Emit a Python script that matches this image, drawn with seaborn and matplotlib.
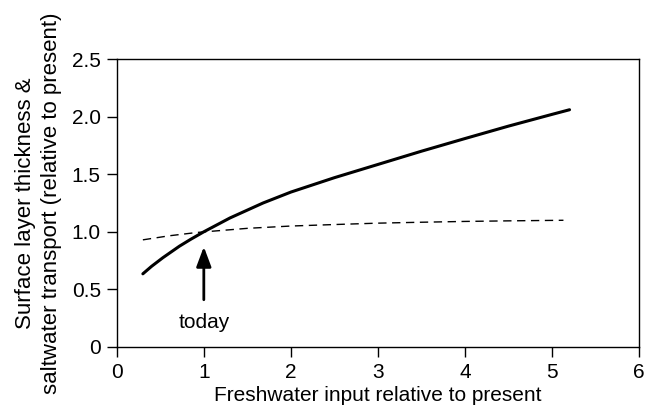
import numpy as np
import pandas as pd
import seaborn as sns
import matplotlib.pyplot as plt

# values
thickness_x = [0.3, 0.4, 0.53, 0.72, 0.85, 1.0, 1.3, 1.68, 2.0, 2.22, 2.5, 3.0, 3.5, 4.0, 4.5, 5.0, 5.2]
thickness_y = [0.635, 0.70, 0.775, 0.875, 0.935, 1.0, 1.12, 1.25, 1.345, 1.40, 1.47, 1.585, 1.70, 1.81, 1.918, 2.02, 2.06]

transport_x = [0.3, 0.6, 0.92, 1.5, 2.0, 2.5, 3.0, 3.5, 4.0, 4.5, 5.13]
transport_y = [0.93, 0.965, 0.994, 1.03, 1.05, 1.063, 1.075, 1.083, 1.09, 1.095, 1.10]

x_ticks = [0, 1, 2, 3, 4, 5, 6]
y_ticks = [0, 0.5, 1.0, 1.5, 2.0, 2.5]
y_tick_labels = ["0", "0.5", "1.0", "1.5", "2.0", "2.5"]

today_x = 1.0
arrow_from = 0.41
arrow_to = 0.87
today_label_y = 0.21

sns.set_theme(style="ticks")
plt.rcParams['font.family'] = ['Liberation Sans', 'DejaVu Sans']
plt.rcParams['axes.linewidth'] = 1.0
plt.rcParams['text.color'] = 'black'
plt.rcParams['axes.labelcolor'] = 'black'
plt.rcParams['xtick.color'] = 'black'
plt.rcParams['ytick.color'] = 'black'
plt.rcParams['axes.edgecolor'] = 'black'

fig, ax = plt.subplots(figsize=(6.45, 4.19), dpi=100)
fig.subplots_adjust(left=0.181, right=0.991, bottom=0.172, top=0.859)

df_thick = pd.DataFrame({"x": thickness_x, "y": thickness_y})
df_trans = pd.DataFrame({"x": transport_x, "y": transport_y})

sns.lineplot(data=df_thick, x="x", y="y", ax=ax, color="black", linewidth=2.2, sort=False)
sns.lineplot(data=df_trans, x="x", y="y", ax=ax, color="black", linewidth=1.0,
             linestyle=(0, (6, 4)), sort=False)

# arrow marking present-day freshwater input
ax.annotate("", xy=(today_x, arrow_to), xytext=(today_x, arrow_from),
            arrowprops=dict(arrowstyle="-|>,head_length=0.8,head_width=0.3",
                            lw=2.0, color="black", mutation_scale=15,
                            shrinkA=0, shrinkB=0))
ax.text(today_x, today_label_y, "today", ha="center", va="center", fontsize=15)

ax.set_xlim(0, 6)
ax.set_ylim(0, 2.5)
ax.set_xticks(x_ticks)
ax.set_yticks(y_ticks)
ax.set_yticklabels(y_tick_labels)
ax.tick_params(axis="both", direction="out", length=7.5, width=1.0, labelsize=15, pad=4)

ax.set_xlabel("Freshwater input relative to present", fontsize=15, labelpad=3)
ax.set_ylabel("Surface layer thickness &\nsaltwater transport (relative to present)",
              fontsize=16, labelpad=7, linespacing=1.3)

for side in ["top", "right", "left", "bottom"]:
    ax.spines[side].set_visible(True)

fig.savefig("out.png", dpi=100)
